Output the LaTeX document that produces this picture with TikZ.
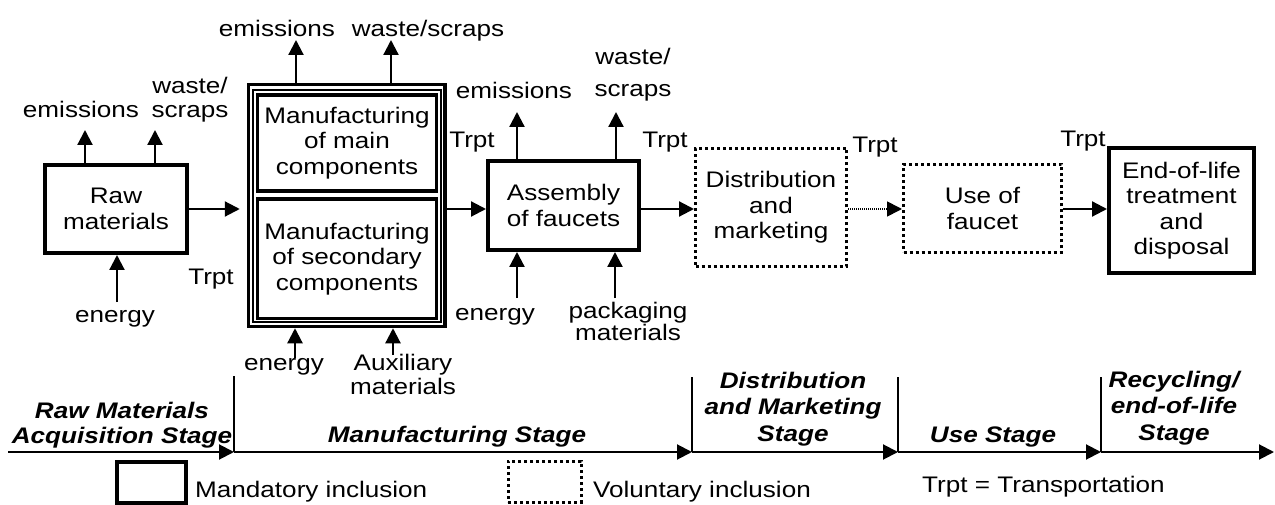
\documentclass[tikz,border=0pt]{standalone}
\usepackage{fontspec}
\setmainfont{Liberation Sans}[FakeStretch=1.16]
\usetikzlibrary{arrows.meta, calc}

\tikzset{
    box/.style={draw, line width=4pt, align=center, inner sep=0pt},
    optbox/.style={draw, line width=3pt, dash pattern=on 3pt off 3pt, align=center, inner sep=0pt},
    flow/.style={line width=2.2pt, -{Triangle[length=15pt, width=15pt]}},
    flowopt/.style={flow, line width=1.6pt, dash pattern=on 1pt off 1pt},
    lbl/.style={align=center, inner sep=0pt, anchor=base},
    stage/.style={lbl, font=\fontsize{22.5}{26.5}\selectfont\bfseries\itshape},
    stageline/.style={line width=2pt, -{Triangle[length=15pt, width=15pt]}},
    stagetick/.style={line width=2pt},
}

\begin{document}
\begin{tikzpicture}[x=1pt, y=-1pt, font=\fontsize{22.5}{25.5}\selectfont]
    \useasboundingbox (0,0) rectangle (1275,505);

    % process boxes
    \node[box, minimum width=142pt, minimum height=88pt] (raw) at (116,209) {Raw\\materials};
    \node[draw, line width=3.5pt, minimum width=196.5pt, minimum height=242pt] (manuf) at (346.75,205.5) {};
    \draw[line width=1.3pt] (253,90) rectangle (441,322);
    \node[box, line width=3.5pt, minimum width=179pt, minimum height=96pt] (mainC) at (347,143) {Manufacturing\\of main\\components};
    \node[box, line width=3.5pt, minimum width=179pt, minimum height=119.5pt] (secC) at (347,258.75) {Manufacturing\\of secondary\\components};
    \node[box, minimum width=151pt, minimum height=89pt] (asm) at (563.5,205.5) {Assembly\\of faucets};
    \node[optbox, minimum width=151pt, minimum height=118pt] (dist) at (771,207.5) {Distribution\\and\\marketing};
    \node[optbox, minimum width=158pt, minimum height=88pt] (use) at (982.5,208.5) {Use of\\faucet};
    \node[box, minimum width=145pt, minimum height=125pt] (eol) at (1181.5,210.5) {End-of-life\\treatment\\and\\disposal};

    % main flow
    \coordinate (flowY) at (0,209);
    \draw[flow, shorten >=7pt] (raw.east |- flowY) -- (manuf.west |- flowY);
    \draw[flow] (manuf.east |- flowY) -- (asm.west |- flowY);
    \draw[flow] (asm.east |- flowY) -- (dist.west |- flowY);
    \draw[flowopt] (dist.east |- flowY) -- (use.west |- flowY);
    \draw[flow] (use.east |- flowY) -- (eol.west |- flowY);

    \node[lbl] (trptA) at (211,285) {Trpt};
    \node[lbl] (trptB) at (472,148) {Trpt};
    \node[lbl] (trptC) at (665,148) {Trpt};
    \node[lbl] (trptD) at (875,153) {Trpt};
    \node[lbl] (trptE) at (1083,147) {Trpt};

    % raw materials in/out
    \coordinate (rawEm) at (85,130);
    \coordinate (rawWs) at (155,130);
    \coordinate (rawEn) at (117,302);
    \draw[flow] (raw.north -| rawEm) -- (rawEm);
    \draw[flow] (raw.north -| rawWs) -- (rawWs);
    \draw[flow] (rawEn) -- (rawEn |- raw.south);
    \node[lbl] (rawEmL) at (81,118) {emissions};
    \node[lbl, font=\fontsize{22.5}{24}\selectfont] (rawWsL) at (190,118) {waste/\\scraps};
    \node[lbl] (rawEnL) at (115,323) {energy};

    % manufacturing in/out
    \coordinate (manEm) at (296,40);
    \coordinate (manWs) at (391,40);
    \coordinate (manEn) at (295,358);
    \coordinate (manAux) at (393,355);
    \draw[flow] (manuf.north -| manEm) -- (manEm);
    \draw[flow] (manuf.north -| manWs) -- (manWs);
    \draw[flow] (manEn) -- (manEn |- manuf.south);
    \draw[flow] (manAux) -- (manAux |- manuf.south);
    \node[lbl] (manEmL) at (277,37) {emissions};
    \node[lbl] (manWsL) at (428,37) {waste/scraps};
    \node[lbl] (manEnL) at (284,370) {energy};
    \node[lbl, font=\fontsize{22.5}{23.5}\selectfont] (manAuxL) at (403,394) {Auxiliary\\materials};

    % assembly in/out
    \coordinate (asmEm) at (517,112);
    \coordinate (asmWs) at (616,112);
    \coordinate (asmEn) at (517,298);
    \coordinate (asmPk) at (615,298);
    \draw[flow] (asm.north -| asmEm) -- (asmEm);
    \draw[flow] (asm.north -| asmWs) -- (asmWs);
    \draw[flow] (asmEn) -- (asmEn |- asm.south);
    \draw[flow] (asmPk) -- (asmPk |- asm.south);
    \node[lbl] (asmEmL) at (514,99) {emissions};
    \node[lbl] (asmWsL) at (633,97) {waste/\\[7pt]scraps};
    \node[lbl] (asmEnL) at (495,320) {energy};
    \node[lbl, font=\fontsize{22.5}{22}\selectfont] (asmPkL) at (628,340) {packaging\\materials};

    % life cycle stages
    \coordinate (ax0) at (8,452);
    \coordinate (tk1) at (234,376);
    \coordinate (tk2) at (692,377);
    \coordinate (tk3) at (898,377);
    \coordinate (tk4) at (1101,377);
    \coordinate (ax5) at (1274,452);
    \draw[stageline] (ax0) -- (tk1 |- ax0);
    \draw[stageline] (tk1 |- ax0) -- (tk2 |- ax0);
    \draw[stageline] (tk2 |- ax0) -- (tk3 |- ax0);
    \draw[stageline] (tk3 |- ax0) -- (tk4 |- ax0);
    \draw[stageline] (tk4 |- ax0) -- (ax5);
    \draw[stagetick] (tk1) -- (tk1 |- ax0);
    \draw[stagetick] (tk2) -- (tk2 |- ax0);
    \draw[stagetick] (tk3) -- (tk3 |- ax0);
    \draw[stagetick] (tk4) -- (tk4 |- ax0);

    \node[stage, font=\fontsize{22.5}{25}\selectfont\bfseries\itshape] (stRaw) at (122,443) {Raw Materials\\Acquisition Stage};
    \node[stage] (stMan) at (457,442) {Manufacturing Stage};
    \node[stage] (stDist) at (793,441) {Distribution\\and Marketing\\Stage};
    \node[stage] (stUse) at (993,442) {Use Stage};
    \node[stage] (stEol) at (1174,440) {Recycling/\\end-of-life\\Stage};

    % legend
    \node[box, minimum width=69pt, minimum height=41pt] (legM) at (151.5,482.5) {};
    \node[lbl, anchor=base west] (legMT) at (195,497) {Mandatory inclusion};
    \node[optbox, minimum width=73pt, minimum height=41pt] (legV) at (544.5,481.5) {};
    \node[lbl, anchor=base west] (legVT) at (593,497) {Voluntary inclusion};
    \node[lbl, anchor=base west] (trptKey) at (922,492) {Trpt = Transportation};
\end{tikzpicture}
\end{document}
